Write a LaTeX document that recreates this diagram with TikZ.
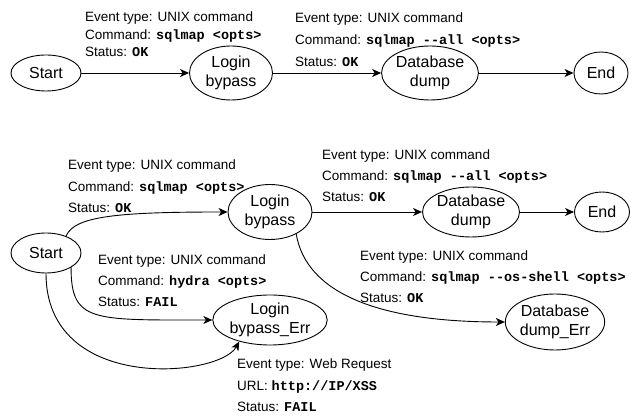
\documentclass[tikz,border=0pt]{standalone}
\usepackage{fontspec}
\setmainfont{Liberation Sans}
\newfontfamily\cmdfont{Liberation Mono}
\usetikzlibrary{shapes.geometric,arrows.meta}
\newcommand{\cmdtxt}[1]{{\cmdfont\bfseries #1}}

\begin{document}
\begin{tikzpicture}[x=1pt, y=1pt,
	state/.style={ellipse, draw, line width=0.9pt, inner sep=0pt, align=center, font=\fontsize{16}{19.5}\selectfont},
	evlabel/.style={anchor=north west, inner sep=0pt, align=left, font=\fontsize{13.5}{21.5}\selectfont},
	flow/.style={line width=0.9pt, -{Stealth[length=9pt, width=8pt, inset=2.5pt]}}]
	\useasboundingbox (0,0) rectangle (632,417);

	\node[state, minimum width=70pt, minimum height=36pt] (s1) at (46,344) {Start};
	\node[state, minimum width=83pt, minimum height=54pt] (l1) at (231,344) {Login\\bypass};
	\node[state, minimum width=96pt, minimum height=54pt] (d1) at (430,344) {Database\\dump};
	\node[state, minimum width=54pt, minimum height=42pt] (e1) at (601,344) {End};

	\draw[flow] (s1) -- (l1);
	\draw[flow] (l1) -- (d1);
	\draw[flow] (d1) -- (e1);

	\node[evlabel, font=\fontsize{13.5}{17.5}\selectfont] (tA) at (85,405) {Event type: UNIX command\\Command: \cmdtxt{sqlmap <opts>}\\Status: \cmdtxt{OK}};
	\node[evlabel, font=\fontsize{13.5}{22}\selectfont] (tB) at (295,404) {Event type: UNIX command\\Command: \cmdtxt{sqlmap -{}-all <opts>}\\Status: \cmdtxt{OK}};

	\node[state, minimum width=70pt, minimum height=40pt] (s2) at (46,164) {Start};
	\node[state, minimum width=84pt, minimum height=55pt] (l2) at (270,205) {Login\\bypass};
	\node[state, minimum width=97pt, minimum height=50pt] (d2) at (471,205) {Database\\dump};
	\node[state, minimum width=55pt, minimum height=40pt] (e2) at (602,205) {End};
	\node[state, minimum width=110pt, minimum height=50pt] (lerr) at (270,97) {Login\\bypass\_Err};
	\node[state, minimum width=97pt, minimum height=56pt] (derr) at (555,95) {Database\\dump\_Err};

	\draw[flow] (s2.40) .. controls +(8,20) and +(-110,0) .. (l2.west);
	\draw[flow] (l2) -- (d2);
	\draw[flow] (d2) -- (e2);
	\draw[flow] (s2.-30) .. controls +(0,-55) and +(-120,0) .. (lerr.west);
	\draw[flow] (s2.south) .. controls +(0,-120) and +(-20,-36) .. (lerr.215);
	\draw[flow] (l2.-40) .. controls +(10,-59) and +(-127,0) .. (derr.west);

	\node[evlabel] (mA) at (68,257) {Event type: UNIX command\\Command: \cmdtxt{sqlmap <opts>}\\Status: \cmdtxt{OK}};
	\node[evlabel, font=\fontsize{13.5}{21}\selectfont] (mB) at (322,267) {Event type: UNIX command\\Command: \cmdtxt{sqlmap -{}-all <opts>}\\Status: \cmdtxt{OK}};
	\node[evlabel, font=\fontsize{13.5}{21}\selectfont] (hA) at (98,162) {Event type: UNIX command\\Command: \cmdtxt{hydra <opts>}\\Status: \cmdtxt{FAIL}};
	\node[evlabel, font=\fontsize{13.5}{21}\selectfont] (oA) at (360,166) {Event type: UNIX command\\Command: \cmdtxt{sqlmap -{}-os-shell <opts>}\\Status: \cmdtxt{OK}};
	\node[evlabel] (wA) at (237,58) {Event type: Web Request\\URL: \cmdtxt{http://IP/XSS}\\Status: \cmdtxt{FAIL}};
\end{tikzpicture}
\end{document}
